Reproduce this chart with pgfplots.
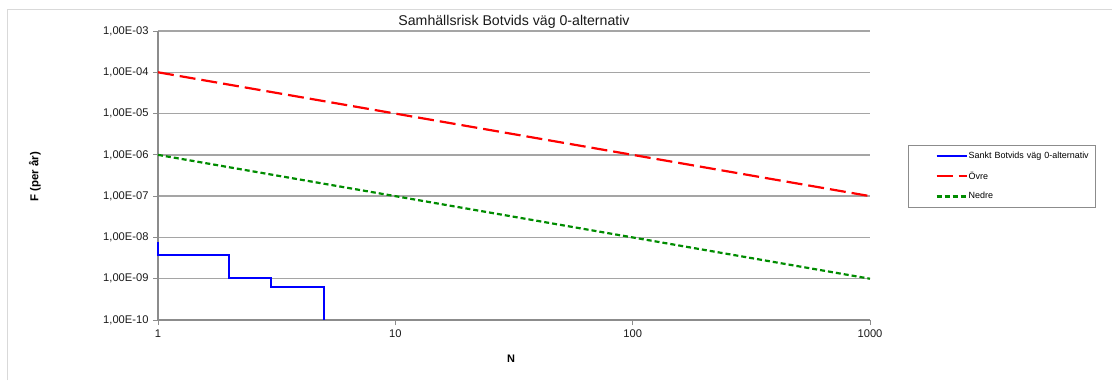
\documentclass[border=0pt]{standalone}
\usepackage{fontspec}
\setmainfont{Liberation Sans}
\usepackage{pgfplots}
\pgfplotsset{compat=1.18}
\definecolor{nedre}{RGB}{0,140,0}
\definecolor{framegray}{RGB}{217,217,217}
\definecolor{gridgray}{RGB}{165,165,165}
\definecolor{axgray}{RGB}{140,140,140}
\begin{document}
\begin{tikzpicture}[x=1bp,y=1bp]
\path[use as bounding box] (0,0) rectangle (1112,380);
\draw[framegray, line width=1bp] (7,0) -- (7,370) -- (1112,370);
\begin{axis}[
  at={(158bp,60bp)}, anchor=south west,
  width=712bp, height=289bp, scale only axis,
  xmode=log, ymode=log,
  xmin=1, xmax=1000, ymin=1e-10, ymax=1e-3,
  xtick={1,10,100,1000}, xticklabels={1,10,100,1000},
  ytick={1e-10,1e-9,1e-8,1e-7,1e-6,1e-5,1e-4,1e-3},
  yticklabels={{1,00E-10},{1,00E-09},{1,00E-08},{1,00E-07},{1,00E-06},{1,00E-05},{1,00E-04},{1,00E-03}},
  xminorticks=false, yminorticks=false,
  axis x line*=bottom, axis y line*=left,
  axis line style={draw=axgray, line width=1.3bp, -},
  ymajorgrids, major grid style={draw=gridgray, line width=1.3bp},
  major tick style={draw=axgray, line width=1bp},
  tick align=outside, major tick length=5bp,
  /pgf/number format/assume math mode=true,
  ticklabel style={font=\fontsize{11.2}{13}\selectfont, text=black!90},
  yticklabel style={anchor=east, xshift=-1bp},
  xticklabel style={anchor=north, yshift=-1bp},
  title={Samhällsrisk Botvids väg 0-alternativ},
  title style={at={(axis description cs:0.5,1)}, anchor=base, yshift=0bp, font=\fontsize{14.2}{16}\selectfont, text=black!90},
  xlabel={N},
  xlabel style={at={(axis description cs:0.4958,-0.135)}, anchor=center, font=\bfseries\fontsize{11}{13}\selectfont},
  ylabel={F (per år)},
  ylabel style={at={(axis description cs:-0.1728,0.495)}, anchor=center, font=\bfseries\fontsize{11.5}{13}\selectfont},
  legend style={at={(axis description cs:1.0534,0.6055)}, anchor=north west,
    draw=axgray, line width=0.8bp, inner xsep=0bp, inner ysep=4.5bp,
    font=\fontsize{9}{11}\selectfont, row sep=7.8bp,
    nodes={inner xsep=1bp, text width=126bp, align=left}},
  legend cell align=left,
  legend image code/.code={\path (-27bp,0bp); \draw[#1] (0bp,0bp) -- (30bp,0bp);},
  clip=false,
]
\addplot[blue, line width=2bp, line join=miter] coordinates {
  (1,7.9e-9) (1,3.75e-9) (2,3.75e-9) (2,1.06e-9) (3,1.06e-9) (3,6.3e-10) (5,6.3e-10) (5,1e-10)};
\addlegendentry{Sankt Botvids väg 0-alternativ}
\addplot[red, line width=2.2bp, dash pattern=on 16bp off 6bp] coordinates {(1,1e-4) (1000,1e-7)};
\addlegendentry{Övre}
\addplot[nedre, line width=2.2bp, dash pattern=on 5bp off 3bp] coordinates {(1,1e-6) (1000,1e-9)};
\addlegendentry{Nedre}
\end{axis}
\end{tikzpicture}
\end{document}
